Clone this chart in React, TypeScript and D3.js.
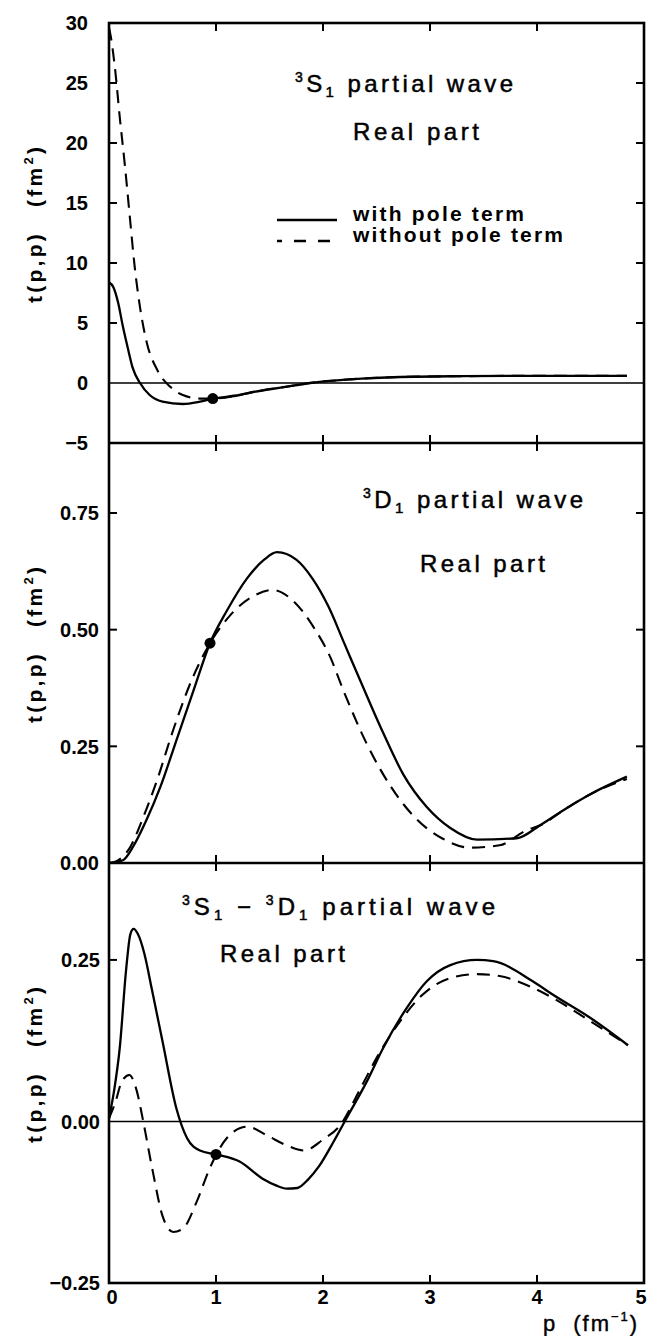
import * as d3 from "d3";

// momentum axis
const pTicks = [0, 1, 2, 3, 4, 5];

// 3S1 panel
const s1Ticks = [-5, 0, 5, 10, 15, 20, 25, 30];
const s1WithPole: [number, number][] = [
  [0, 8.4], [0.04, 8.0], [0.085, 6.7], [0.13, 4.7], [0.18, 2.75], [0.22, 1.3],
  [0.29, 0], [0.38, -1.0], [0.5, -1.55], [0.69, -1.75], [0.85, -1.55], [0.97, -1.3],
  [1.22, -1.0], [1.32, -0.8], [1.63, -0.35], [1.88, 0], [2.25, 0.3], [2.72, 0.5],
  [3.3, 0.57], [3.96, 0.6], [4.84, 0.6],
];
const s1NoPole: [number, number][] = [
  [0, 29.6], [0.01, 29.2], [0.055, 26.3], [0.1, 22.2], [0.15, 18], [0.195, 13.8],
  [0.24, 9.7], [0.29, 6.3], [0.355, 3.3], [0.45, 1.1], [0.57, -0.3], [0.69, -1.0],
  [0.85, -1.3], [0.97, -1.3], [1.22, -1.0], [1.32, -0.8], [1.63, -0.35], [1.88, 0],
  [2.25, 0.3], [2.72, 0.5], [3.3, 0.57], [3.96, 0.6], [4.84, 0.6],
];
const s1Dot: [number, number] = [0.97, -1.3];

// 3D1 panel
const d1Ticks = [0, 0.25, 0.5, 0.75];
const d1WithPole: [number, number][] = [
  [0, 0], [0.13, 0.006], [0.225, 0.035], [0.35, 0.092], [0.48, 0.163], [0.63, 0.263],
  [0.79, 0.37], [0.944, 0.471], [1.1, 0.54], [1.29, 0.61], [1.45, 0.65], [1.57, 0.666],
  [1.75, 0.65], [1.9, 0.61], [2.05, 0.55], [2.2, 0.47], [2.35, 0.39], [2.56, 0.28],
  [2.75, 0.19], [2.97, 0.12], [3.19, 0.075], [3.44, 0.05], [3.81, 0.053], [4.03, 0.081],
  [4.28, 0.118], [4.52, 0.15], [4.84, 0.185],
];
const d1NoPole: [number, number][] = [
  [0, 0], [0.07, 0.004], [0.2, 0.035], [0.32, 0.098], [0.45, 0.178], [0.6, 0.285],
  [0.76, 0.385], [0.944, 0.471], [1.13, 0.53], [1.35, 0.572], [1.53, 0.585],
  [1.72, 0.562], [1.91, 0.506], [2.07, 0.44], [2.19, 0.37], [2.41, 0.255],
  [2.63, 0.165], [2.87, 0.095], [3.12, 0.052], [3.37, 0.033], [3.65, 0.038],
  [3.9, 0.07], [4.03, 0.081], [4.28, 0.118], [4.52, 0.15], [4.84, 0.18],
];
const d1Dot: [number, number] = [0.944, 0.471];

// 3S1 - 3D1 panel
const sdTicks = [-0.25, 0, 0.25];
const sdWithPole: [number, number][] = [
  [0, 0.005], [0.05, 0.05], [0.1, 0.113], [0.16, 0.235], [0.2, 0.29], [0.23, 0.298],
  [0.27, 0.29], [0.33, 0.26], [0.4, 0.205], [0.5, 0.124], [0.63, 0.02], [0.73, -0.026],
  [0.85, -0.045], [1.0, -0.051], [1.22, -0.062], [1.44, -0.089], [1.56, -0.099],
  [1.66, -0.104], [1.76, -0.103], [1.86, -0.09], [1.96, -0.07], [2.1, -0.031],
  [2.22, 0.005], [2.41, 0.062], [2.56, 0.113], [2.78, 0.175], [2.97, 0.217],
  [3.19, 0.242], [3.44, 0.25], [3.59, 0.248], [3.96, 0.217], [4.15, 0.196], [4.5, 0.16],
  [4.85, 0.118],
];
const sdNoPole: [number, number][] = [
  [0, 0.005], [0.06, 0.03], [0.12, 0.062], [0.19, 0.072], [0.26, 0.047], [0.32, 0],
  [0.41, -0.078], [0.5, -0.146], [0.6, -0.171], [0.69, -0.166], [0.82, -0.124],
  [0.94, -0.073], [1.1, -0.026], [1.29, -0.008], [1.48, -0.022], [1.66, -0.037],
  [1.82, -0.045], [2.0, -0.028], [2.16, -0.006], [2.35, 0.051], [2.5, 0.098],
  [2.72, 0.155], [2.93, 0.196], [3.19, 0.222], [3.44, 0.228], [3.65, 0.225],
  [3.96, 0.207], [4.15, 0.191], [4.5, 0.155], [4.85, 0.118],
];
const sdDot: [number, number] = [1.0, -0.051];

const FONT = "'Liberation Sans', Arial, sans-serif";

const margin = { top: 23, left: 109, right: 4 };
const panelH = 420;
const W = 648;
const H = 1336;

const panels = [
  {
    key: "s1", domain: [-5, 30], ticks: s1Ticks, labelRight: 88,
    withPole: s1WithPole, noPole: s1NoPole, dot: s1Dot, zero: true,
    fmt: (v: number) => (v < 0 ? "\u2212" + Math.abs(v) : String(v)),
  },
  {
    key: "d1", domain: [0, 0.9], ticks: d1Ticks, labelRight: 99,
    withPole: d1WithPole, noPole: d1NoPole, dot: d1Dot, zero: false,
    fmt: (v: number) => v.toFixed(2),
  },
  {
    key: "sd", domain: [-0.25, 0.4], ticks: sdTicks, labelRight: 100,
    withPole: sdWithPole, noPole: sdNoPole, dot: sdDot, zero: true,
    fmt: (v: number) => (v < 0 ? "\u2212" + Math.abs(v).toFixed(2) : v.toFixed(2)),
  },
];

const Sup = ({ t }: { t: string }) => (
  <tspan fontSize={14} dy={-10}>{t}</tspan>
);

export default function App() {
  const x = d3.scaleLinear().domain([0, 5]).range([margin.left, W - margin.right]);
  const tickLen = 8;
  const bottomY = margin.top + panelH * panels.length;

  return (
    <svg
      width={W}
      height={H}
      style={{ position: "absolute", left: 0, top: 0, background: "#fff" }}
      fontFamily={FONT}
    >
      <rect width={W} height={H} fill="#fff" />
      {panels.map((pn, i) => {
        const top = margin.top + i * panelH;
        const bot = top + panelH;
        const y = d3.scaleLinear().domain(pn.domain).range([bot, top]);
        const line = d3
          .line<[number, number]>()
          .x((d) => x(d[0]))
          .y((d) => y(d[1]))
          .curve(d3.curveMonotoneX);
        const inner = pn.ticks.filter((t) => t > pn.domain[0] && t < pn.domain[1] && t !== 0);
        const cy = (top + bot) / 2 - 8;
        return (
          <g key={pn.key}>
            {/* x ticks at top and bottom of the panel */}
            {pTicks.slice(1, -1).map((t) => (
              <g key={"xt" + t} stroke="#000" strokeWidth={2}>
                <line x1={x(t)} x2={x(t)} y1={top} y2={top + tickLen} />
                <line x1={x(t)} x2={x(t)} y1={bot} y2={bot - tickLen} />
              </g>
            ))}
            {inner.map((t) => (
              <g key={"yt" + t} stroke="#000" strokeWidth={2}>
                <line x1={x(0)} x2={x(0) + tickLen} y1={y(t)} y2={y(t)} />
                <line x1={x(5)} x2={x(5) - tickLen} y1={y(t)} y2={y(t)} />
              </g>
            ))}
            {pn.zero && (
              <line x1={x(0)} x2={x(5)} y1={y(0)} y2={y(0)} stroke="#000" strokeWidth={1.6} />
            )}
            {/* tick labels */}
            {pn.ticks.map((t) => (
              <text
                key={"yl" + t}
                x={pn.labelRight}
                y={y(t)}
                dy="0.36em"
                textAnchor="end"
                fontSize={20}
                fontWeight="bold"
              >
                {pn.fmt(t)}
              </text>
            ))}
            {/* axis title */}
            <text
              transform={`translate(34,${cy}) rotate(-90)`}
              textAnchor="middle"
              dy="0.36em"
              fontSize={21}
              fontWeight="bold"
              textLength={156}
              lengthAdjust="spacing"
              style={{ whiteSpace: "pre" }}
            >
              t(p,p)
              <tspan dx={24}>(fm</tspan>
              <tspan fontSize={13} dy={-9}>2</tspan>
              <tspan dy={9}>)</tspan>
            </text>
            <path d={line(pn.withPole) || ""} fill="none" stroke="#000" strokeWidth={2.3} />
            <path
              d={line(pn.noPole) || ""}
              fill="none"
              stroke="#000"
              strokeWidth={2.1}
              strokeDasharray="13,8"
            />
            <circle cx={x(pn.dot[0])} cy={y(pn.dot[1])} r={5.5} fill="#000" />
          </g>
        );
      })}

      {/* frame */}
      <rect
        x={x(0)}
        y={margin.top}
        width={x(5) - x(0)}
        height={bottomY - margin.top}
        fill="none"
        stroke="#000"
        strokeWidth={2.6}
      />
      {[1, 2].map((k) => (
        <line
          key={"sep" + k}
          x1={x(0)}
          x2={x(5)}
          y1={margin.top + k * panelH}
          y2={margin.top + k * panelH}
          stroke="#000"
          strokeWidth={2.6}
        />
      ))}

      {/* x tick labels */}
      {pTicks.map((t) => (
        <text
          key={"xl" + t}
          x={x(t) + (t === 0 ? 3 : t === 5 ? -3 : 0)}
          y={bottomY + 21}
          textAnchor="middle"
          fontSize={20}
          fontWeight="bold"
        >
          {t}
        </text>
      ))}
      <text
        x={637}
        y={1331}
        textAnchor="end"
        fontSize={22}
        textLength={94}
        lengthAdjust="spacing"
        stroke="#000"
        strokeWidth={0.4}
        style={{ whiteSpace: "pre" }}
      >
        p  (fm
        <tspan fontSize={13} dy={-10}>{"\u22121"}</tspan>
        <tspan dy={10}>)</tspan>
      </text>

      {/* annotations */}
      <g fontSize={24} stroke="#000" strokeWidth={0.5} style={{ whiteSpace: "pre" }}>
        <text x={295} y={92} textLength={218} lengthAdjust="spacing">
          <Sup t="3" />
          <tspan dy={10}>S</tspan>
          <tspan fontSize={15} dy={5}>1</tspan>
          <tspan dy={-5}> partial  wave</tspan>
        </text>
        <text x={353} y={140} textLength={126} lengthAdjust="spacing">
          Real  part
        </text>

        <text x={363} y={508} textLength={220} lengthAdjust="spacing">
          <Sup t="3" />
          <tspan dy={10}>D</tspan>
          <tspan fontSize={15} dy={5}>1</tspan>
          <tspan dy={-5}> partial  wave</tspan>
        </text>
        <text x={420} y={572} textLength={125} lengthAdjust="spacing">
          Real  part
        </text>

        <text x={182} y={915} textLength={313} lengthAdjust="spacing">
          <Sup t="3" />
          <tspan dy={10}>S</tspan>
          <tspan fontSize={15} dy={5}>1</tspan>
          <tspan dy={-5}>  {"\u2212"}  </tspan>
          <tspan fontSize={14} dy={-10}>3</tspan>
          <tspan dy={10}>D</tspan>
          <tspan fontSize={15} dy={5}>1</tspan>
          <tspan dy={-5}> partial  wave</tspan>
        </text>
        <text x={220} y={962} textLength={125} lengthAdjust="spacing">
          Real  part
        </text>
      </g>

      {/* legend */}
      <line x1={277} x2={337} y1={220} y2={220} stroke="#000" strokeWidth={2.3} />
      <line
        x1={277}
        x2={337}
        y1={241}
        y2={241}
        stroke="#000"
        strokeWidth={2.3}
        strokeDasharray="12,12"
        strokeDashoffset={7}
      />
      <g fontSize={21} fontWeight="bold" style={{ whiteSpace: "pre" }}>
        <text x={353} y={221} textLength={171} lengthAdjust="spacing">
          with  pole  term
        </text>
        <text x={353} y={242} textLength={210} lengthAdjust="spacing">
          without  pole  term
        </text>
      </g>
    </svg>
  );
}
